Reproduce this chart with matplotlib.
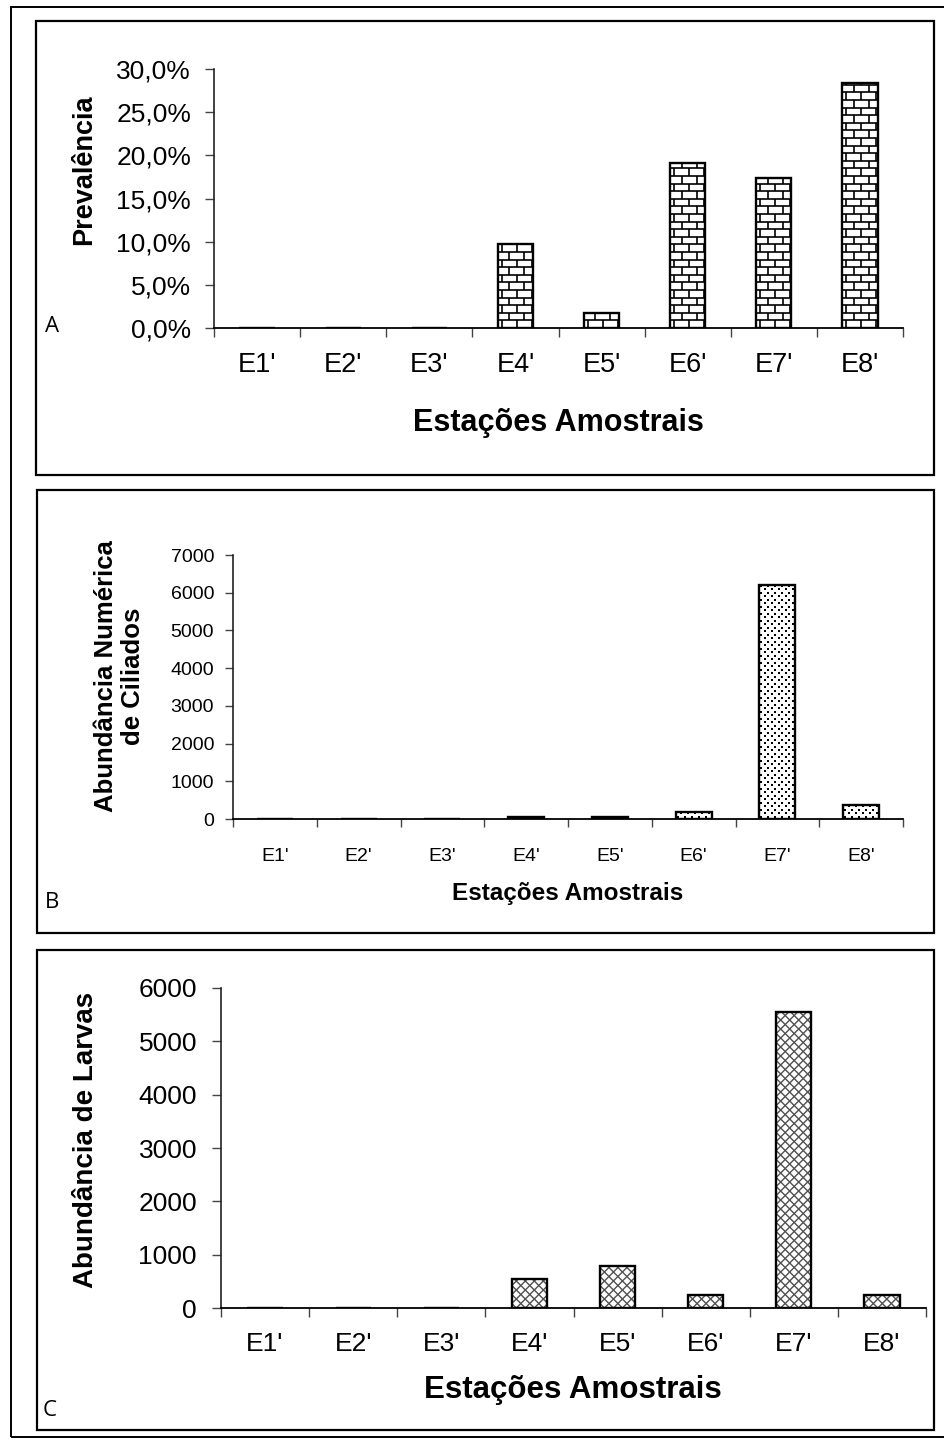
import numpy as np
import matplotlib
matplotlib.use("Agg")
import matplotlib.pyplot as plt
from matplotlib.patches import Rectangle
from matplotlib.collections import LineCollection
from matplotlib.lines import Line2D
from matplotlib.transforms import IdentityTransform
from matplotlib.ticker import FuncFormatter

# ---------------- data ----------------
stations = ["E1'", "E2'", "E3'", "E4'", "E5'", "E6'", "E7'", "E8'"]
prevalence = [0.0, 0.0, 0.0, 0.097, 0.017, 0.191, 0.174, 0.284]
ciliates = [0, 0, 0, 40, 40, 190, 6200, 370]
larvae = [0, 0, 0, 550, 790, 250, 5550, 250]

prev_ticks = [0.0, 0.05, 0.10, 0.15, 0.20, 0.25, 0.30]
cil_ticks = [0, 1000, 2000, 3000, 4000, 5000, 6000, 7000]
larv_ticks = [0, 1000, 2000, 3000, 4000, 5000, 6000]

W, H = 944, 1441
DPI = 100
plt.rcParams['font.family'] = ['Liberation Sans', 'DejaVu Sans']

fig = plt.figure(figsize=(W / DPI, H / DPI), dpi=DPI)


def fx(x):
    return x / W


def fy(y):
    return 1 - y / H


def box(x0, y0, x1, y1):
    return [x0 / W, 1 - y1 / H, (x1 - x0) / W, (y1 - y0) / H]


def px2pt(p):
    return p * 72.0 / DPI


# ---------------- frames ----------------
def frame(x0, y0, x1, y1, lw=1.6):
    fig.add_artist(Rectangle((fx(x0), fy(y1)), fx(x1 - x0), (y1 - y0) / H,
                             transform=fig.transFigure, fill=False,
                             edgecolor='black', linewidth=lw))


frame(11, 7, 960, 1437, lw=1.4)
frame(36, 21, 934, 475)
frame(37, 490, 934, 933)
frame(37, 950, 934, 1430)


# ---------------- fill patterns ----------------
def safe_extent(bar):
    bb = bar.get_window_extent()
    if not np.all(np.isfinite([bb.x0, bb.x1, bb.y0, bb.y1])):
        return None
    if bb.height < 1 or bb.height > H or bb.width > W:
        return None
    return bb


def brick_fill(ax, bar, row=7.6, brick=15.0):
    bb = safe_extent(bar)
    if bb is None:
        return
    segs = []
    k = 0
    y = bb.y0
    while y < bb.y1 + row:
        segs.append([(bb.x0 - 2, y), (bb.x1 + 2, y)])
        off = (k % 2) * brick / 2.0
        x = bb.x0 - brick + off + 4
        while x < bb.x1 + brick:
            segs.append([(x, y), (x, y + row)])
            x += brick
        y += row
        k += 1
    lc = LineCollection(segs, colors='black', linewidths=1.2,
                        transform=IdentityTransform(), zorder=3)
    ax.add_collection(lc, autolim=False)
    lc.set_clip_path(bar)


def dot_fill(ax, bar, step=7.0, size=2.6):
    bb = safe_extent(bar)
    if bb is None:
        return
    xs, ys = [], []
    k = 0
    y = bb.y0 + 2.5
    while y < bb.y1:
        off = (k % 2) * step / 2.0
        x = bb.x0 + 2.0 + off
        while x < bb.x1:
            xs.append(x)
            ys.append(y)
            x += step
        y += step / 2.0
        k += 1
    ln = Line2D(xs, ys, linestyle='none', marker='s',
                markersize=px2pt(size), markerfacecolor='black',
                markeredgewidth=0, transform=IdentityTransform(), zorder=3)
    ax.add_line(ln)
    ln.set_clip_path(bar)


def weave_fill(ax, bar, period=9.0, amp=4.5, row=4.5):
    bb = safe_extent(bar)
    if bb is None:
        return
    segs = []
    k = 0
    y = bb.y0 - amp
    while y < bb.y1 + row:
        off = (k % 2) * period / 2.0
        x = bb.x0 - period + off
        pts = []
        i = 0
        while x < bb.x1 + period:
            pts.append((x, y + (amp if i % 2 else 0.0)))
            x += period / 2.0
            i += 1
        segs.append(pts)
        y += row
        k += 1
    lc = LineCollection(segs, colors='#505050', linewidths=1.0,
                        transform=IdentityTransform(), zorder=3)
    ax.add_collection(lc, autolim=False)
    lc.set_clip_path(bar)


# ---------------- panel builder ----------------
def panel(rect_px, values, ticks, ylim, width, fill, ytick_fs, xtick_fs,
          ypad_px, xpad_px, tick_len, fmt=None):
    ax = fig.add_axes(box(*rect_px))
    ax.set_xlim(0, len(stations))
    ax.set_ylim(*ylim)
    ax.set_autoscale_on(False)
    pos = np.arange(len(stations)) + 0.5
    bars = ax.bar(pos, values, width=width, color='white', edgecolor='none',
                  zorder=2)
    ax.bar(pos, values, width=width, fill=False, edgecolor='black',
           linewidth=1.7, zorder=4)
    ax.set_xlim(0, len(stations))
    ax.set_ylim(*ylim)
    for b, v in zip(bars, values):
        if v > 0:
            fill(ax, b)
    ax.set_xticks(np.arange(len(stations) + 1))
    ax.set_xticklabels([])
    ax.set_xticks(pos, minor=True)
    ax.set_xticklabels(stations, minor=True, fontsize=xtick_fs)
    ax.tick_params(axis='x', which='major', direction='out',
                   length=px2pt(tick_len), width=1.0, color='#444444')
    ax.tick_params(axis='x', which='minor', length=0, pad=px2pt(xpad_px))
    ax.set_yticks(ticks)
    if fmt is not None:
        ax.yaxis.set_major_formatter(FuncFormatter(fmt))
    ax.tick_params(axis='y', direction='out', length=px2pt(tick_len),
                   width=1.0, color='#444444', labelsize=ytick_fs,
                   pad=px2pt(ypad_px))
    for s in ('top', 'right'):
        ax.spines[s].set_visible(False)
    ax.spines['left'].set_color('#222222')
    ax.spines['bottom'].set_color('black')
    ax.spines['left'].set_linewidth(1.2)
    ax.spines['bottom'].set_linewidth(1.3)
    ax.patch.set_alpha(0)
    return ax


pct = lambda v, _: ('%.1f%%' % (v * 100)).replace('.', ',')
letter_font = ['Open Sans', 'DejaVu Sans']

# Panel A: prevalence
panel((214, 69, 903, 328), prevalence, prev_ticks, (0, 0.30), 0.41,
      brick_fill, 19, 19.5, 14, 24, 9, fmt=pct)
fig.text(fx(84), fy(170), 'Prevalência', rotation=90, ha='center',
         va='center', fontsize=19.5, fontweight='bold')
fig.text(fx(558), fy(423), 'Estações Amostrais', ha='center', va='center',
         fontsize=22, fontweight='bold')
fig.text(fx(45), fy(326), 'A', ha='left', va='center', fontsize=16,
         family=letter_font)

# Panel B: ciliate abundance
panel((233, 555, 903, 819), ciliates, cil_ticks, (0, 7000), 0.43,
      dot_fill, 14, 14, 11, 29, 8)
fig.text(fx(106), fy(676), 'Abundância Numérica', rotation=90, ha='center',
         va='center', fontsize=18.5, fontweight='bold')
fig.text(fx(133), fy(676), 'de Ciliados', rotation=90, ha='center',
         va='center', fontsize=18.5, fontweight='bold')
fig.text(fx(568), fy(894), 'Estações Amostrais', ha='center', va='center',
         fontsize=17.5, fontweight='bold')
fig.text(fx(45), fy(902), 'B', ha='left', va='center', fontsize=16,
         family=letter_font)

# Panel C: larval abundance
panel((221, 988, 926, 1308), larvae, larv_ticks, (0, 6000), 0.40,
      weave_fill, 19, 19, 15, 24, 9)
fig.text(fx(86), fy(1140), 'Abundância de Larvas', rotation=90, ha='center',
         va='center', fontsize=20, fontweight='bold')
fig.text(fx(573), fy(1390), 'Estações Amostrais', ha='center', va='center',
         fontsize=22.5, fontweight='bold')
fig.text(fx(43), fy(1411), 'C', ha='left', va='center', fontsize=16,
         family=letter_font)

fig.savefig('out.png', dpi=DPI)
